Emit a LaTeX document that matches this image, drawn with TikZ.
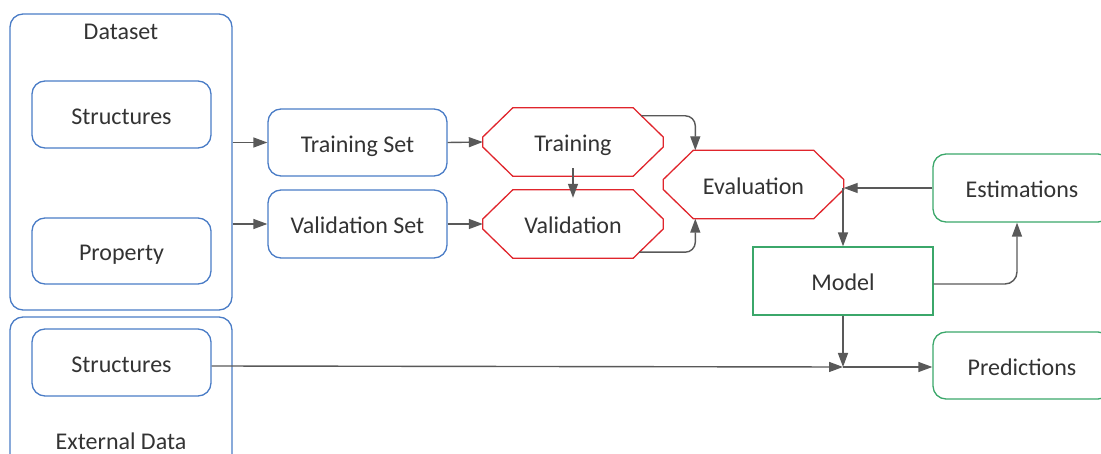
\documentclass[tikz,border=0pt]{standalone}
\usepackage{fontspec}
\setmainfont{Carlito}
\usetikzlibrary{calc,arrows.meta}
\definecolor{bluebox}{HTML}{4A7CC6}
\definecolor{redbox}{HTML}{E0252C}
\definecolor{greenbox}{HTML}{3BA76A}
\definecolor{arrowgray}{HTML}{595959}
\definecolor{txt}{HTML}{333333}
\newcommand\myocto[1]{\draw[octline] ($(#1.west)+(0,-5)$) -- ($(#1.north west)+(30,0)$) -- ($(#1.north east)+(-30,0)$) -- ($(#1.east)+(0,-5)$) -- ($(#1.east)+(0,5)$) -- ($(#1.south east)+(-30,0)$) -- ($(#1.south west)+(30,0)$) -- ($(#1.west)+(0,5)$) -- cycle;}
\tikzset{
  base/.style={inner sep=0pt, text=txt, font=\fontsize{24}{28}\selectfont, text height=20pt, text depth=0pt},
  container/.style={base, draw=bluebox, line width=1.3pt, rounded corners=13pt},
  bluebox/.style={base, draw=bluebox, line width=1.3pt, rounded corners=13pt, minimum width=179pt, minimum height=67pt},
  greenround/.style={base, draw=greenbox, line width=1.3pt, rounded corners=13pt, minimum width=178pt, minimum height=68pt},
  greenrect/.style={base, draw=greenbox, line width=1.3pt, minimum width=180pt, minimum height=68pt},
  octnode/.style={base, minimum width=180pt, minimum height=68pt},
  octline/.style={draw=redbox, line width=1.3pt},
  lbl/.style={base},
  arr/.style={draw=arrowgray, line width=1.4pt, -{Triangle[length=14pt,width=10pt]}},
}
\begin{document}
\begin{tikzpicture}[x=1pt,y=-1pt]
\useasboundingbox (0,0) rectangle (1101,454);
% containers
\node[container, minimum width=222pt, minimum height=296pt] (dataset) at (121,162) {};
\node[lbl] (dslabel) at (121,30) {Dataset};
\node[container, minimum width=222pt, minimum height=153pt] (external) at (121,393.5) {};
\node[lbl] (extlabel) at (121,439) {External Data};
% inner boxes
\node[bluebox] (struct1) at (121.5,114.5) {Structures};
\node[bluebox, minimum height=66pt] (property) at (121.5,251) {Property};
\node[bluebox] (struct2) at (121.5,362.5) {Structures};
\node[bluebox] (trainset) at (357.5,142.5) {Training Set};
\node[bluebox, minimum height=68pt] (valset) at (357.5,224) {Validation Set};
% octagons
\node[octnode] (training) at (573,142) {Training};
\node[octnode] (validation) at (573,224) {Validation};
\node[octnode] (evaluation) at (753.5,184.5) {Evaluation};
\myocto{training}
\myocto{validation}
\myocto{evaluation}
% green
\node[greenrect] (model) at (843,281) {Model};
\node[greenround] (estimations) at (1022,188) {Estimations};
\node[greenround, minimum height=67pt] (predictions) at (1022,365.5) {Predictions};
\coordinate (junc) at (843,367);
% connectors
\draw[arr] (dataset.east |- trainset.west) -- (trainset.west);
\draw[arr] (dataset.east |- valset.west) -- (valset.west);
\draw[arr] (trainset.east) -- (training.west);
\draw[arr] (valset.east) -- (validation.west);
\draw[arr] ($(training.south)+(0,-8)$) -- ($(validation.north)+(0,8)$);
\draw[arr, rounded corners=10pt] ($(training.north east)+(-22,8)$) -| ($(evaluation.north west)+(32,0)$);
\draw[arr, rounded corners=10pt] ($(validation.south east)+(-24,-6)$) -| ($(evaluation.south west)+(32,0)$);
\draw[arr] (estimations.west) -- (estimations.west -| evaluation.east);
\draw[arr] (model.north |- estimations.west) -- (model.north);
\draw[arr, rounded corners=12pt] ($(model.east)+(0,3)$) -| ($(estimations.south)+(-5,0)$);
\draw[arr] (model.south) -- (junc);
\draw[arr] ($(struct2.east)+(0,3.5)$) -- (junc);
\draw[arr] (junc) -- (junc -| predictions.west);
\end{tikzpicture}
\end{document}
